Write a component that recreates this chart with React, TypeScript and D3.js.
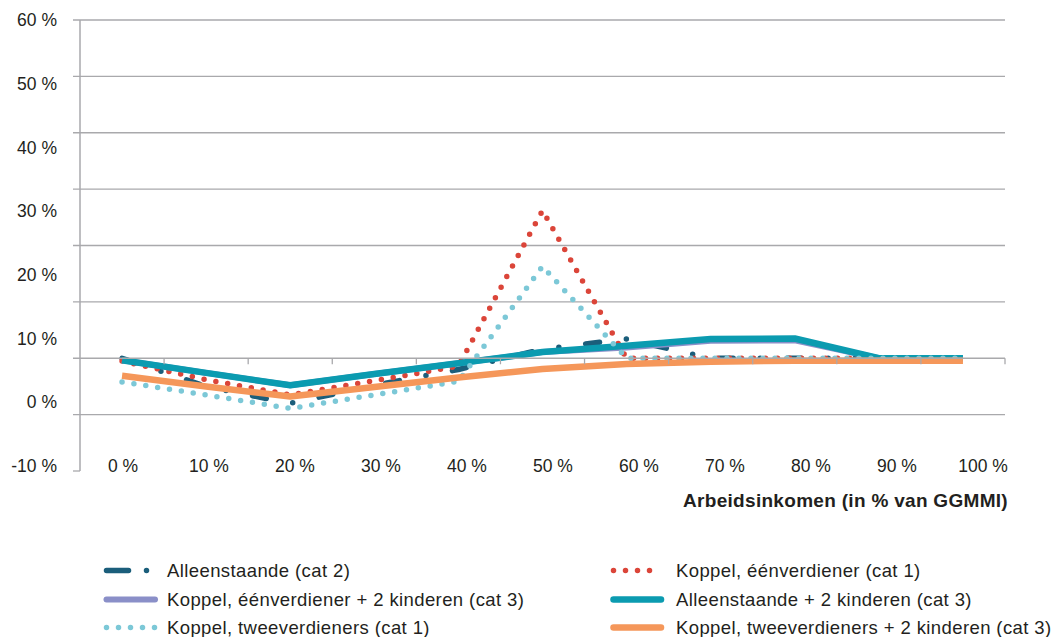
import React from "react";
import * as d3 from "d3";

// ---- data ----
const incomeLevels: number[] = [0, 10, 20, 30, 40, 50, 60, 70, 80, 90, 100];
const gridValues: number[] = [-20, -10, 0, 10, 20, 30, 40, 50, 60];
const yTickLabels: number[] = [-10, 0, 10, 20, 30, 40, 50, 60];

const alleenstaande: number[] = [0, -5.0, -8.0, -4.8, -2.0, 1.6, 3.4, 0, 0, 0, 0];
const koppelEenverdiener: number[] = [-0.5, -3.8, -6.5, -4.0, -1.4, 26.2, 0, 0, 0, 0, 0];
const koppelEenverdiener2k: number[] = [-0.35, -2.6, -4.8, -2.8, -0.9, 1.1, 1.9, 3.1, 3.2, 0, 0];
const alleenstaande2k: number[] = [-0.35, -2.6, -4.8, -2.8, -0.9, 1.1, 2.2, 3.4, 3.5, 0, 0];
const koppelTweeverdieners: number[] = [-4.2, -6.5, -8.9, -6.5, -4.1, 16.3, 0, 0, 0, 0, 0];
const koppelTweeverdieners2k: number[] = [-3.1, -5.0, -6.8, -5.1, -3.4, -1.9, -1.0, -0.6, -0.45, -0.45, -0.45];

const seriesNames: string[] = [
  "Alleenstaande (cat 2)",
  "Koppel, éénverdiener (cat 1)",
  "Koppel, éénverdiener + 2 kinderen (cat 3)",
  "Alleenstaande + 2 kinderen (cat 3)",
  "Koppel, tweeverdieners (cat 1)",
  "Koppel, tweeverdieners + 2 kinderen (cat 3)",
];
const seriesValues: number[][] = [
  alleenstaande,
  koppelEenverdiener,
  koppelEenverdiener2k,
  alleenstaande2k,
  koppelTweeverdieners,
  koppelTweeverdieners2k,
];
const xAxisTitle = "Arbeidsinkomen (in % van GGMMI)";

// ---- styles ----
const seriesStyles = [
  { color: "#1b5e7b", width: 5.5, dash: "14 27 0 27", legendDash: "22 18 0 18" },
  { color: "#db4539", width: 5.5, dash: "0 12", legendDash: "0 12" },
  { color: "#8a8fc8", width: 6, dash: "", legendDash: "" },
  { color: "#0b9bb0", width: 6.5, dash: "", legendDash: "" },
  { color: "#7cc8d7", width: 5.5, dash: "0 12", legendDash: "0 12" },
  { color: "#f5975a", width: 6.5, dash: "", legendDash: "" },
];

const W = 1061;
const H = 637;
const GRID = "#a9a9ac";
const TEXT = "#231f20";
const FONT = "'Liberation Sans', Arial, Helvetica, sans-serif";

export default function App() {
  const x = d3
    .scaleBand<number>()
    .domain(incomeLevels)
    .range([80, 1005])
    .paddingInner(0)
    .paddingOuter(0);
  const y = d3.scaleLinear().domain([-20, 60]).range([471, 20]);
  // tick labels are laid out on their own spacing in the reference
  const yLabel = d3.scaleLinear().domain([-10, 60]).range([466, 20]);
  const xLabel = d3.scalePoint<number>().domain(incomeLevels).range([123, 983]);

  const cx = (v: number) => (x(v) as number) + x.bandwidth() / 2;
  const line = d3
    .line<number>()
    .x((_, i) => cx(incomeLevels[i]))
    .y((d) => y(d));

  const y0 = y(0);
  const boundaries = incomeLevels.map((v) => (x(v) as number) + x.bandwidth());

  const legendItems = seriesNames.map((name, i) => {
    const col = i % 2;
    const row = Math.floor(i / 2);
    return { name, i, col, row };
  });
  const legendCols = [
    { x1: 106.5, x2: 155, tx: 167 },
    { x1: 613.5, x2: 661, tx: 676 },
  ];
  const legendRows = [570.5, 599.5, 627.5];

  return (
    <div style={{ position: "absolute", left: 0, top: 0 }}>
      <svg width={W} height={H} style={{ display: "block", background: "#fff" }}>
        {/* grid lines (excluding zero axis) */}
        {gridValues
          .filter((v) => v !== 0)
          .map((v) => (
            <line
              key={"g" + v}
              x1={73}
              x2={v === -20 ? 80 : 1005}
              y1={y(v)}
              y2={y(v)}
              stroke={GRID}
              strokeWidth={1.3}
            />
          ))}
        {/* y axis */}
        <line x1={80} x2={80} y1={y(60)} y2={y(-20)} stroke={GRID} strokeWidth={1.5} />

        {/* series */}
        {seriesValues.map((vals, i) => {
          const s = seriesStyles[i];
          return (
            <path
              key={"s" + i}
              d={line(vals) || ""}
              fill="none"
              stroke={s.color}
              strokeWidth={s.width}
              strokeDasharray={s.dash || undefined}
              strokeLinecap={s.dash ? "round" : "butt"}
              strokeLinejoin="round"
            />
          );
        })}

        {/* x axis at zero */}
        <line x1={73} x2={1005} y1={y0} y2={y0} stroke={GRID} strokeWidth={1.3} />
        {boundaries.map((bx, i) => (
          <line key={"t" + i} x1={bx} x2={bx} y1={y0} y2={y0 + 6} stroke={GRID} strokeWidth={1.3} />
        ))}

        {/* y tick labels */}
        {yTickLabels.map((v) => (
          <text
            key={"yl" + v}
            x={57}
            y={yLabel(v)}
            dy="0.35em"
            textAnchor="end"
            fontFamily={FONT}
            fontSize={17.5}
            fill={TEXT}
          >
            {v + " %"}
          </text>
        ))}

        {/* x tick labels */}
        {incomeLevels.map((v) => (
          <text
            key={"xl" + v}
            x={xLabel(v) as number}
            y={466}
            dy="0.35em"
            textAnchor="middle"
            fontFamily={FONT}
            fontSize={17.5}
            fill={TEXT}
          >
            {v + " %"}
          </text>
        ))}

        {/* x axis title */}
        <text
          x={1008}
          y={500}
          dy="0.35em"
          textAnchor="end"
          fontFamily={FONT}
          fontSize={19}
          fontWeight="bold"
          letterSpacing={0.3}
          fill={TEXT}
        >
          {xAxisTitle}
        </text>

        {/* legend */}
        {legendItems.map(({ name, i, col, row }) => {
          const s = seriesStyles[i];
          const c = legendCols[col];
          const ly = legendRows[row];
          return (
            <g key={"lg" + i}>
              <line
                x1={c.x1}
                x2={c.x2}
                y1={ly}
                y2={ly}
                stroke={s.color}
                strokeWidth={s.width}
                strokeDasharray={s.legendDash || undefined}
                strokeLinecap="round"
              />
              <text
                x={c.tx}
                y={ly}
                dy="0.35em"
                fontFamily={FONT}
                fontSize={18.5}
                letterSpacing={0.4}
                fill={TEXT}
              >
                {name}
              </text>
            </g>
          );
        })}
      </svg>
    </div>
  );
}
